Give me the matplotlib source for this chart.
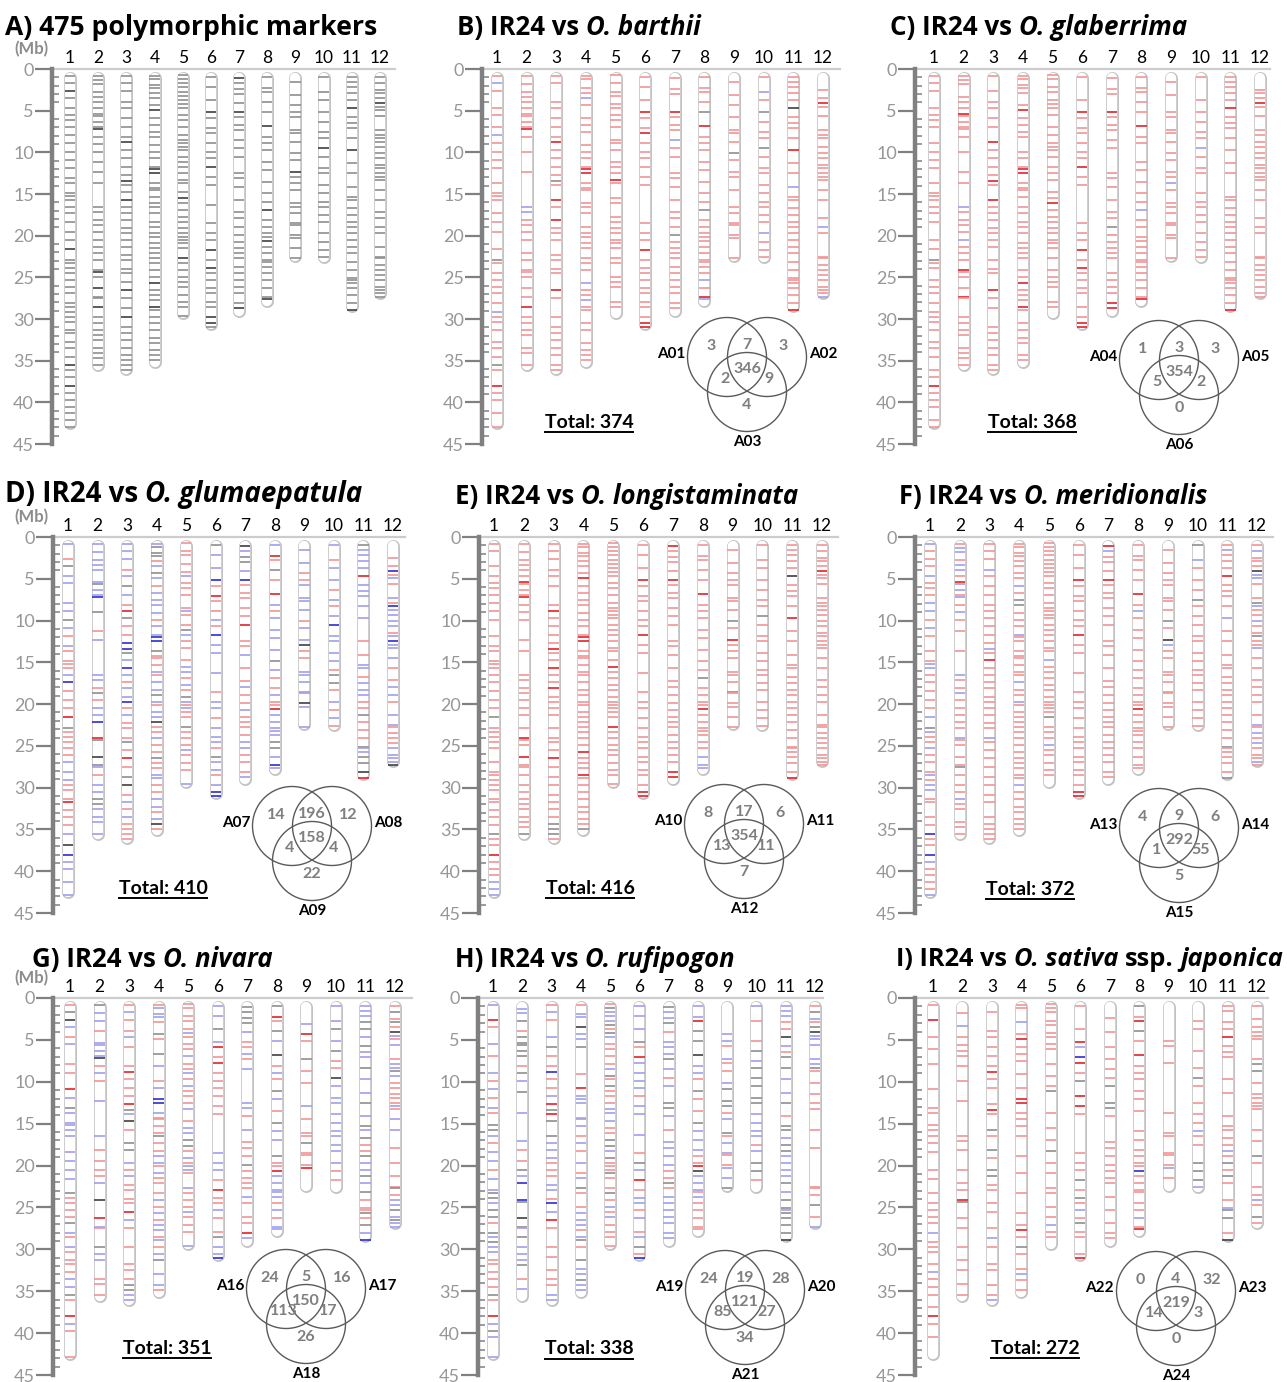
import matplotlib.pyplot as plt
from matplotlib.patches import Circle

plt.rcParams['font.family'] = ['Lato', 'DejaVu Sans']

W, H = 1287, 1382

# chromosome lengths (Mb) and marker positions (Mb)
chrom_len = [43.3, 36.3, 36.8, 35.9, 30.1, 31.4, 29.8, 28.6, 23.2, 23.3, 29.2, 27.6]

marker_mb = [
    [0.8, 1.7, 2.6, 3.5, 4.7, 5.5, 6.1, 6.9, 7.9, 8.9, 9.9, 10.9, 11.9, 13.1, 13.7, 14.9, 15.2, 15.7, 16.5, 17.3,
     18.4, 19.5, 20.5, 21.6, 22.9, 23.3, 23.9, 24.5, 25.3, 26.1, 26.9, 28.1, 28.5, 29.1, 29.7, 30.3, 31.3, 31.7,
     32.7, 33.5, 34.5, 35.5, 36.1, 36.9, 38.0, 38.9, 39.7, 40.5, 41.3, 42.1, 42.9],
    [0.8, 1.3, 1.8, 2.8, 3.4, 3.9, 4.7, 5.4, 5.6, 6.3, 6.9, 7.2, 8.1, 9.0, 9.9, 11.2, 12.3, 13.7, 16.5, 17.1,
     18.1, 18.7, 19.5, 20.5, 21.3, 22.1, 22.9, 24.1, 24.3, 24.9, 26.3, 27.3, 27.5, 28.5, 29.7, 30.5, 31.3, 31.9,
     32.5, 33.5, 34.1, 34.7, 35.5],
    [0.8, 1.7, 2.6, 3.9, 4.7, 5.9, 6.9, 8.1, 8.8, 9.7, 10.7, 11.7, 12.7, 13.4, 13.9, 14.7, 15.7, 16.5, 17.3, 18.1,
     19.1, 19.7, 20.5, 21.3, 22.3, 22.9, 24.0, 24.5, 25.5, 26.5, 27.5, 28.7, 29.7, 30.9, 31.7, 32.5, 33.5, 34.3,
     34.9, 35.5, 36.1],
    [0.8, 1.2, 1.9, 2.3, 2.9, 3.5, 4.3, 4.9, 5.9, 6.7, 7.5, 8.1, 9.1, 9.9, 10.7, 11.7, 12.0, 12.5, 13.7, 14.3,
     14.5, 15.3, 16.1, 16.5, 17.3, 18.3, 18.9, 19.7, 20.1, 20.9, 21.5, 22.1, 22.7, 23.3, 24.1, 24.9, 25.7, 26.5,
     27.1, 27.7, 28.5, 28.9, 29.7, 30.5, 31.3, 32.3, 32.9, 33.7, 34.3, 34.9],
    [0.7, 1.2, 1.7, 2.2, 2.7, 3.2, 3.7, 4.2, 4.7, 5.5, 6.1, 6.9, 7.9, 8.5, 8.9, 9.3, 9.7, 10.5, 11.1, 11.7,
     12.5, 13.3, 13.7, 14.7, 15.5, 16.1, 16.9, 17.7, 18.3, 19.1, 19.7, 20.1, 20.5, 20.9, 21.5, 22.7, 23.3, 24.1,
     24.9, 25.5, 26.1, 27.1, 27.9, 28.5, 29.6],
    [0.9, 2.1, 3.7, 5.2, 5.9, 7.1, 7.7, 8.9, 9.9, 10.7, 11.7, 12.9, 13.9, 16.3, 18.5, 19.7, 20.5, 21.7, 22.9, 23.9,
     24.5, 25.3, 26.3, 26.9, 27.9, 28.5, 29.7, 30.5, 31.0],
    [1.1, 1.7, 2.4, 3.0, 4.1, 5.2, 5.8, 6.7, 7.3, 8.5, 9.5, 10.5, 12.5, 13.1, 14.1, 15.7, 17.2, 17.9, 18.9, 19.9,
     20.7, 21.5, 22.1, 22.7, 23.7, 24.5, 25.3, 26.1, 26.9, 28.1, 28.7],
    [0.9, 2.3, 2.7, 3.9, 5.1, 6.8, 8.1, 8.9, 9.7, 11.1, 12.1, 13.5, 14.9, 15.9, 16.9, 18.1, 18.9, 19.7, 20.1, 20.6,
     21.3, 22.1, 22.9, 23.2, 23.7, 24.5, 25.3, 26.3, 27.3, 27.6],
    [1.6, 3.1, 4.3, 5.1, 5.7, 7.3, 7.7, 8.7, 10.1, 10.9, 12.3, 12.9, 13.7, 14.5, 16.1, 16.5, 17.3, 18.5, 18.7, 19.9,
     20.3, 21.5, 22.7],
    [0.9, 2.7, 3.7, 5.1, 6.3, 7.5, 8.3, 9.5, 10.5, 11.9, 12.5, 13.9, 14.9, 15.9, 16.5, 17.5, 18.3, 19.7, 20.7, 21.7,
     22.6],
    [0.9, 1.5, 2.1, 2.9, 3.7, 4.7, 5.7, 6.5, 7.1, 8.3, 9.7, 11.3, 12.5, 14.1, 15.3, 15.7, 16.7, 17.5, 18.3, 18.9,
     19.7, 20.5, 21.3, 22.1, 23.1, 24.1, 25.1, 25.3, 25.7, 26.3, 27.1, 28.1, 28.9],
    [0.9, 1.7, 2.5, 2.9, 3.5, 4.1, 4.5, 4.9, 5.6, 7.3, 7.9, 8.3, 8.7, 9.3, 10.1, 10.7, 11.5, 11.9, 12.5, 12.9,
     13.3, 14.5, 15.7, 17.1, 17.9, 18.9, 19.7, 21.3, 22.5, 22.7, 23.5, 24.1, 24.7, 25.3, 26.1, 26.5, 26.9, 27.3],
]

# one code per marker: k grey, K dark grey, r/R red, b/B blue, '.' not polymorphic
codes_A = ["kkKkkkkkkk kkkkkkkkkk kkkKkkkkkk kkkkkkkkkk kKkkKkkkkk k",
           "kkkkkkkkkk kKkkkkkkkk kkkkkkkkKk KkkKkkkkkk kkk",
           "kkkkkkkkKk kkkKkkKkkk kkkkkkkkkK kkKkkkkkkk k",
           "kkkkkkkKkk kkkkkkKKkk kkkkkkkkkk kkkkkkKkkk Kkkkkkkkkk",
           "kkkkkkkkkk kkkkkkkkkk kkkkKkkkkk kkkkkKkkkk kkkkk",
           "kkkKkkkkkk KkkkkkkKkK kkkkkkKKk",
           "KkkkkKkkkk kkkkkkkkkk kkkkkkkkkk K",
           "kkkkkKkkkk kkkkKkkkkK kkkkkkkkkK",
           "kkkkkkkkkk Kkkkkkkkkk kkk",
           "kkkkkkkKkk kkkkkkkkkk k",
           "kkkkkKkkkk Kkkkkkkkkk kkkkkkkkkk kkK",
           "kkkkkKkkkk kkkkkkkkkk kkkkkkkkkk kkkkkkkk"]
codes_B = ["rbr.rr.rbr rrr.rrrr.r rr.rkr.rrr rr.brrr.rr rkr.Rrr.r. r",
           "r.rrrrrrrr rRr.r.r.bb rrrr.rrrrr rr.Rrrrr.r r.r",
           "rr.rrrrrRr rrrkr.Rr.R rrr.rrrr.R r.rrrrrr.r r",
           "rr.rrbr.rr r.rrrrRRrr r.rrr.rrrr r.rrr.brrb rr.rr.rrrr",
           "r.r.rr.rrr rr.rr.r.rr rRr.rr.rrr r.rrrrr.rr r.rr.",
           "rrrRrrRrrr rrr.rrrRrr rrrrrrrRR",
           "r.rr.Rrrrb rrrrrrrrrk rrrrrrrrrr r",
           "rrrrkRrrrr rrrrkrrrrr rrrrrrbrRb",
           "rrr.rrrrkr rr.r.rrrrr r.r",
           "rbrkrrrkrr rrrrrrrbrr r",
           "rrrrrKrrrr Rrrbrrrrrr rrrrrrrrrr rrR",
           "..r.rRr.rr rr.rrrrrrr rrr.rbr.rr rrrrrrrb"]
codes_C = ["rrr.rrrr.r rrr.rrrrrr r.rrkrr.rr rr.rrrr.rr r.rrRrrr.r r",
           "rrr.rrrRrr rrr.r.rrbr rrrbrrrRrr rRr.rrrr.r rrr",
           "r.rrrrr.Rr rrrRr.Rrrr rrrr.rrr.R rr.rrrrr.r r",
           "rrrrr.rRrr rr.rrrRRrr rr.rrrrr.r rrr.rrRrrr Rr.rrrr.rr",
           "rr.rr.rrrr .rr.rrrr.r rr.rrRrrrr r.rrrr.rrr r.rr.",
           "r.rRrrrrrr Rrr.rrrRrR rrrr.rrRR",
           "r.rr.Rrrrr r.rrrrrrkr rrrr.rrrrR R",
           "rrrrrRrr.r rrrrbrr.rr rrrrrrrrrR",
           "rr.rrrrrrr rrbrrrrrrr r.r",
           "r.rrrrrbrr r.rrrrrrrr r",
           "rrrrrRrrrr rrr.rrrrrr rrrrrrrrrr rrR",
           "..rrrRr.rr r.rrrrrrrr rrr.rrr.rr rrrrr.rr"]
codes_D = ["b.rkbb..bb kbrbrrrrbB rrrRkrrrrr bb.brrrRrr rb.KBbb.b. b",
           "b.bbbb.bkb bB.k.rb.bb rkrbbB.Rk. Kkbrbbkkbb b.b",
           "bbbrbkbrRk rrBBkbBbrb bBrbrrrkrR rkKrbrbrrr r",
           "bkkkrbkbrb bbbrbbBBkr rrbrbbkbrb bKrrbrrkrr bbrrbbrbKr",
           "r.rr.r.rbr rr.rbr.rkb rr.rbbrbrk brbrrkrrrb rrr.b",
           "kbbBrRrrbr Bbbbrbbrbb brkbbrbBB",
           "KbkkbBrrrr rRrrbrrbrr brrrrbbrrr b",
           "bRrkrRbrbb bbkbrrbrrR bbbbbkkbBb",
           "bbrrbbbbrb bKrrbbbbbK b.b",
           "brbbrbrbBb bbbrkkrbrb r",
           "kbbbbRbbbb b.rrbbrbbb rrkrrrkbbk kKR",
           "..r.rBrbrb rBbbbbrbBb bbrrbbrbbr rrrbbbbK"]
codes_E = ["rr.rrrrrrr r.rrrrrrrr rrrkrrrrr. rrrrrrrrrr rkrrRrrrbb b",
           "r.rrrrrRrr rRrrr.rrrr rrrrr.rRrr Rrrrrrrrrr rrk",
           "rrrrrr.rRr rrrRrrRrrR rrrr.rrrrR rrrrrrrkkk r",
           "rrrrrrrRrr rrrrrrRRrr rrrrrrrrrr rrrrrrRrrr Rrrrrrrrrk",
           "rrrrrrrrrr rrrrrrrrrr rrrrRrrrrr rrrrrRrrrr rrrrr",
           "rrrRrrrrrr Rrrrrrrrrr rrrrrrrRR",
           "RrrrrRrrrr rrrrrrrrrr rrrrrrrrrR R",
           "rrrrrRrrrr rrrrkrrrrR rrrrrrrbbb",
           "rrrrrrrrkr Rrrrrrrkrr rrr",
           "rrrrrrrkrr rrrrrrrrrr r",
           "rrrrrKrrrr Rrrrrrrrrr rrrrrrrrrr rrR",
           "rrrrrRrrrr rrrrrrrrrr rrrrrrrrrr rrrrrrrr"]
codes_F = ["brrrbrrrbb rbr.rrbbrr rrrbkbrrbr rrbrbbrr.r rBrrBbrrrr b",
           "rbbrbbrRbb rbrbrr.rbr rbrrrrrbrr rrkrrrbrr. rrr",
           "rrrbrrrrrr rrrbrRrrrr rrrrrrbrrr rrrrr.rrrr r",
           "rrrrrrrrbr kkrrrbrrrr rrrrbrrbrr rrrrrrrrrr rrbrrrrrrr",
           "rrrrrrrrrr rrrrrrrrrr rrrbrrrrrr rrrrkrrrbr rrrr.",
           "rrrRrrrrrr Rrrrrrrrrr rrrrrrrRR",
           "RbrrrRrrrr rrrrrrrrrr rrrrrrrrrr r",
           "rrrrrRrbrr rrrrrrrrrR rrrrrrrrrr",
           "rrrrrrrrkr Kbrrrrrrrr rrr",
           "kbrrrkrrrr rrrrrrrrrr r",
           "rbrrrRrrrr brrrrrrrrr rrrrrrkrrr rrk",
           "rbrrrKbbrr kbrrbrrkrr brrrrrrrbr brbrrrbr"]
codes_G = ["rkKbrb..rr .Rbkbbbbb. bbbb.krrrr kbr.brrrrb bkr.Rbr... r",
           "k.bb.r.bbb bKrbr.b.b. r.rrrb.K.. Rbr.kbb..r r.r",
           "rbrrbr.rRr rrRkbKr.kk .brbrrrrRb r.r.rrrkkb b",
           "rbbbr.kr.k .b.rb.BBbr rrrkrrbbrb rr.rbrbrbb rbrbk.b.br",
           "rr.rr.rbrr rbrrb.rbrr rb.rbbkkrb rbbr.brrrb rrr.b",
           "bbkbRrRrrr rrr.bbbrRr rbr.rkbbB",
           "kkkkbrrbrb ..bbrbrrrk rrrrbr.rrR b",
           "kRrkbKrbrk brkbb.krrR bbbbbrbrbb",
           ".bRr.k.rr. .b.rrrkrrr R..",
           "bbkbkrrKbb bbbbbbbbrr .",
           "bbbkkbkbbk bbkbkbkrrk bbkbkrrrkr kbB",
           "rkrkrKbrbr bbkbrrrrrb rbb.r.rrrk rbbkbkbb"]
codes_H = ["b.Rr.b.r.b rbrbr.kkbr bbrbbkkbkk rkbkbbrrrr rkr.Rbkb.. b",
           ".bbk.rkkkk k.rkbk.b.b r.rkbB.Bk. Kkbkbbbk.r .b.",
           "rbr.bkrrBr rbRkRk.kbb brrrbbrBbR r.rr.rrr.b b",
           "r.bb.Kbbk. ..r.Rbbb.r bb.rbr.b.r b.kr.rbbbr bkr.kbbkbb",
           "rkbbbkrkbr rrrb.krkrr rbbbrrkkbk rrrkrrkrbr brrrr",
           "bbbkrRbbbb rbbbrkbRrb brb.rbkrB",
           "kbbkrbbbkb rbkkbrbbbb rrkrbbbbbb b",
           "bbRkkKbbrk rrkbbbrrRK bbbrbrrrrr",
           "..bbrbrrbk kkrbkrbbrr bbk",
           "br.rkbkkkk kbbbbrbkkr .",
           "bbbrrKbrkk bbkrkkbkkb bbbkbkkbkk kkK",
           "rkbrkKbbbb bkr.r.r.r. r.r.r...rr r.k.r..b"]
codes_I = ["r.R.r.r.r. .r.rr.rrrr r.rr.r.rrr rb.rrr.rbr rr.rRr.r.. .",
           "..r.b.r.rr r.r.r.r.rr r..r.rrRk. r.r.r.r.r. r.r",
           ".r.rrrrrRr r.rRr.kr.k r.kkrr.rr. rbr.rr.r.r b",
           "rr..b.rRrr r.r.r.RRr. rr.r..r..r ...r..r.rR r.kr.rbr.r",
           "rrr.rr.rrr r.r..r.rk. ..r.r.r.k. r..r.rr.r. rbrr.",
           "r.rRbBRrk. RRr.rrrkrk rbrkrr.rR",
           "..r.r.r.rr rkkkr.rrrr rrr.r.r.rr r",
           "krRkrRrrrr rr.rrrrrrB rrrr.rrbrR",
           "...rr.r... ..r.rr.rrr br.",
           ".rr.r.rkr. rrrbrr.kkk b",
           "rr.rrRrrr. rr.rrrrrbr krkr.rbk.k .rK",
           "r.r.rrrr.r k.k.r.rrrr r.rr.kr.r. rbr.k.r."]

panel_codes = dict(A=codes_A, B=codes_B, C=codes_C, D=codes_D, E=codes_E,
                   F=codes_F, G=codes_G, H=codes_H, I=codes_I)

code_colors = {'k': '#8f8f8f', 'K': '#3f3f3f', 'r': '#f29494', 'R': '#e0232a',
               'b': '#a0a0ec', 'B': '#2c2ccf'}

titles = {
    'A': [("A) 475 polymorphic markers", False)],
    'B': [("B) IR24 vs", False), ("O. barthii", True)],
    'C': [("C) IR24 vs", False), ("O. glaberrima", True)],
    'D': [("D) IR24 vs", False), ("O. glumaepatula", True)],
    'E': [("E) IR24 vs", False), ("O. longistaminata", True)],
    'F': [("F) IR24 vs", False), ("O. meridionalis", True)],
    'G': [("G) IR24 vs", False), ("O. nivara", True)],
    'H': [("H) IR24 vs", False), ("O. rufipogon", True)],
    'I': [("I) IR24 vs", False), ("O. sativa", True), ("ssp.", False), ("japonica", True)],
}

# venn: accession names, then counts (only L, L&R, only R, all, L&C, R&C, only C)
venn_names = {'B': ('A01', 'A02', 'A03'), 'C': ('A04', 'A05', 'A06'), 'D': ('A07', 'A08', 'A09'),
              'E': ('A10', 'A11', 'A12'), 'F': ('A13', 'A14', 'A15'), 'G': ('A16', 'A17', 'A18'),
              'H': ('A19', 'A20', 'A21'), 'I': ('A22', 'A23', 'A24')}
venn_counts = {'B': [3, 7, 3, 346, 2, 9, 4], 'C': [1, 3, 3, 354, 5, 2, 0],
               'D': [14, 196, 12, 158, 4, 4, 22], 'E': [8, 17, 6, 354, 13, 11, 7],
               'F': [4, 9, 6, 292, 1, 55, 5], 'G': [24, 5, 16, 150, 113, 17, 26],
               'H': [24, 19, 28, 121, 85, 27, 34], 'I': [0, 4, 32, 219, 14, 3, 0]}
totals = {'B': 374, 'C': 368, 'D': 410, 'E': 416, 'F': 372, 'G': 351, 'H': 338, 'I': 272}

# pixel layout of each panel; tx/tr are left and right ends of the title
layout = {
    'A': dict(ax_x=52, y0=69, y45=444, c1=70, c12=380, end=395, tx=5, tr=375, ty=27),
    'B': dict(ax_x=482, y0=69, y45=444, c1=497, c12=823, end=840, tx=457, tr=700, ty=27),
    'C': dict(ax_x=915, y0=69, y45=444, c1=934, c12=1260, end=1270, tx=890, tr=1187, ty=27),
    'D': dict(ax_x=53, y0=537, y45=913, c1=68, c12=393, end=405, tx=5, tr=363, ty=494),
    'E': dict(ax_x=479, y0=537, y45=913, c1=494, c12=822, end=838, tx=455, tr=798, ty=496),
    'F': dict(ax_x=915, y0=537, y45=913, c1=930, c12=1257, end=1273, tx=899, tr=1207, ty=496),
    'G': dict(ax_x=53, y0=998, y45=1375, c1=70, c12=395, end=412, tx=32, tr=272, ty=959),
    'H': dict(ax_x=478, y0=998, y45=1375, c1=493, c12=815, end=823, tx=455, tr=735, ty=959),
    'I': dict(ax_x=915, y0=998, y45=1375, c1=933, c12=1257, end=1268, tx=896, tr=1282, ty=959),
}
venn_pos = {'B': (727, 357), 'C': (1159, 360), 'D': (292, 826), 'E': (724, 824),
            'F': (1159, 828), 'G': (286, 1289), 'H': (725, 1290), 'I': (1156, 1291)}
total_pos = {'B': (589, 422), 'C': (1032, 422), 'D': (163, 888), 'E': (590, 888),
             'F': (1030, 889), 'G': (167, 1348), 'H': (589, 1349), 'I': (1035, 1348)}

PT = 0.72  # points per pixel at 100 dpi
AXIS_GREY = '#808080'
TITLE_FONT = ['Open Sans', 'Lato', 'DejaVu Sans']
TITLE_SIZE = 19

fig = plt.figure(figsize=(W / 100, H / 100), dpi=100)
renderer = fig.canvas.get_renderer()

for key, L in layout.items():
    s = (L['c12'] - L['c1']) / 11
    ppm = (L['y45'] - L['y0']) / 45
    ax = fig.add_axes([L['ax_x'] / W, 1 - L['y45'] / H, (L['end'] - L['ax_x']) / W, (L['y45'] - L['y0']) / H])
    ax.set_xlim(1 + (L['ax_x'] - L['c1']) / s, 1 + (L['end'] - L['c1']) / s)
    ax.set_ylim(45, 0)
    ax.patch.set_visible(False)
    for side in ('top', 'right', 'bottom'):
        ax.spines[side].set_visible(False)
    ax.spines['left'].set_color(AXIS_GREY)
    ax.spines['left'].set_linewidth(3.2)
    ax.set_yticks(range(0, 46, 5))
    ax.set_yticks(range(0, 46), minor=True)
    ax.tick_params(axis='y', which='major', direction='out', length=12, width=1.6, color=AXIS_GREY,
                   labelsize=13, labelcolor='#979797', pad=1)
    ax.tick_params(axis='y', which='minor', direction='in', length=5, width=1.1, color=AXIS_GREY)
    ax.set_xticks(range(1, 13))
    ax.set_xticklabels([str(i) for i in range(1, 13)])
    ax.xaxis.set_ticks_position('top')
    ax.tick_params(axis='x', length=0, labelsize=12.5, pad=2)
    ax.axhline(0, color='#cccccc', lw=1.6, clip_on=False, zorder=1)

    r_mb = 6.5 / ppm
    hw = 5.2 / s
    for i, (length, pos, code) in enumerate(zip(chrom_len, marker_mb, panel_codes[key]), start=1):
        top, bot = 0.35 + r_mb, length - r_mb
        ax.plot([i, i], [top, bot], color='#c2c2c2', lw=13 * PT, solid_capstyle='round', zorder=2)
        ax.plot([i, i], [top, bot], color='white', lw=10.4 * PT, solid_capstyle='round', zorder=3)
        code = code.replace(' ', '')
        ys = [y for y, c in zip(pos, code) if c != '.']
        cs = [code_colors[c] for c in code if c != '.'][:len(ys)]
        ax.hlines(ys, i - hw, i + hw, colors=cs, lw=1.2, zorder=4)

# overlay in figure pixels for titles, venns and totals
ov = fig.add_axes([0, 0, 1, 1])
ov.set_xlim(0, W)
ov.set_ylim(H, 0)
ov.axis('off')


def text_width(text, size, italic=False):
    t = ov.text(0, 0, text, fontsize=size, fontweight='bold', family=TITLE_FONT,
                fontstyle='italic' if italic else 'normal')
    w = t.get_window_extent(renderer).width
    t.remove()
    return w


space_ref = text_width('a a', TITLE_SIZE) - text_width('aa', TITLE_SIZE)
for key, pieces in titles.items():
    L = layout[key]
    full = sum(text_width(txt, TITLE_SIZE, it) for txt, it in pieces) + space_ref * (len(pieces) - 1)
    size = TITLE_SIZE * min(1.08, (L['tr'] - L['tx']) / full)
    gap = space_ref * size / TITLE_SIZE
    x = L['tx']
    for text, italic in pieces:
        t = ov.text(x, L['ty'], text, fontsize=size, fontweight='bold', family=TITLE_FONT,
                    fontstyle='italic' if italic else 'normal', ha='left', va='center')
        x += t.get_window_extent(renderer).width + gap

for key in 'ADG':
    ov.text(31, layout[key]['y0'] - 20, '(Mb)', fontsize=12, fontweight='bold', color='#8c8c8c',
            ha='center', va='center')

rad = 39.5
for key, (lx, ly) in venn_pos.items():
    centres = [(lx, ly), (lx + 40, ly), (lx + 20, ly + 35)]
    for cx, cy in centres:
        ov.add_patch(Circle((cx, cy), rad, fill=False, ec='#5a5a5a', lw=1.0))
    n1, n2, n3 = venn_names[key]
    ov.text(lx - 42, ly - 3, n1, fontsize=11, fontweight='bold', ha='right', va='center')
    ov.text(lx + 82, ly - 3, n2, fontsize=11, fontweight='bold', ha='left', va='center')
    ov.text(lx + 20, ly + 85, n3, fontsize=11, fontweight='bold', ha='center', va='center')
    offsets = [(-16, -11), (20, -12), (56, -11), (20, 12), (-2, 22), (42, 22), (20, 48)]
    for (dx, dy), n in zip(offsets, venn_counts[key]):
        ov.text(lx + dx, ly + dy, str(n), fontsize=11.5, fontweight='bold', color='#7f7f7f',
                ha='center', va='center')

for key, (x, y) in total_pos.items():
    t = ov.text(x, y, f'Total: {totals[key]}', fontsize=14, fontweight='bold', ha='center', va='center')
    bb = t.get_window_extent(renderer)
    ov.plot([bb.x0, bb.x1], [H - bb.y0 + 1, H - bb.y0 + 1], color='black', lw=1.4)

fig.savefig('out.png', dpi=100)
